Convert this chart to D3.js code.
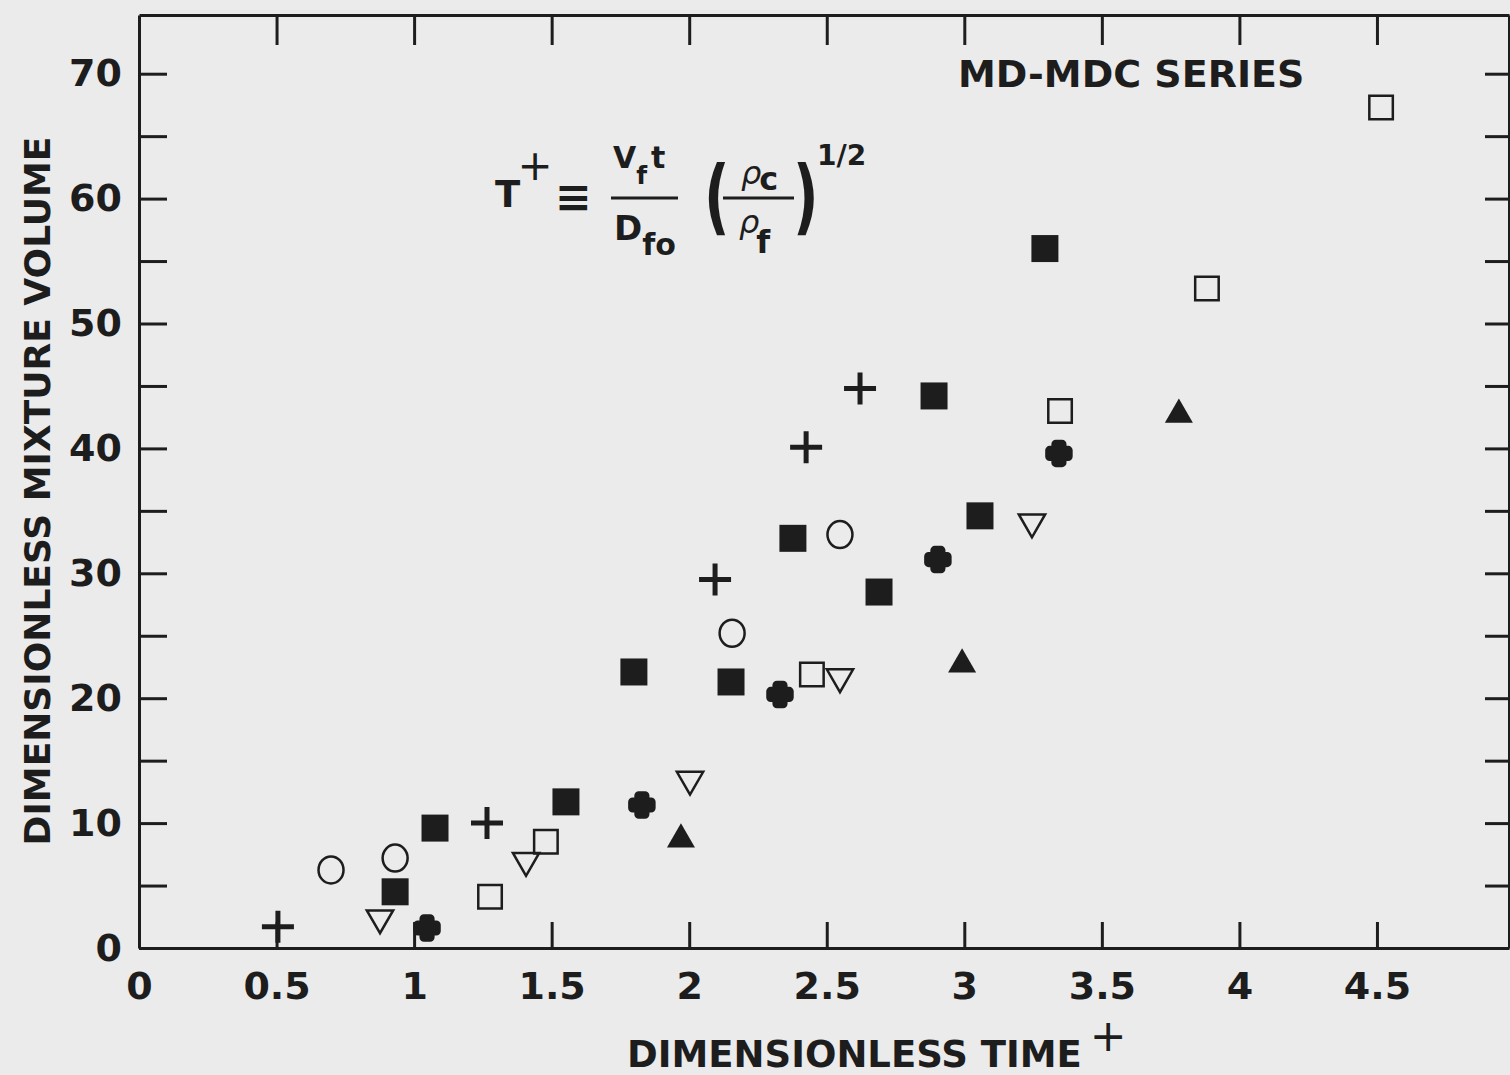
<html>
    <head>
        <script src="https://d3js.org/d3.v7.min.js"></script>
        <title>MD-MDC Series</title>
        <style>
            body { margin: 0; background: #ebebeb; }
            text { font-family: "DejaVu Sans", sans-serif; font-weight: bold; fill: #1d1d1d; }
        </style>
    </head>
    <body>
        <div class="viz"></div>
        <script type="text/javascript">
            // tick values
            var xTicks = [0, 0.5, 1, 1.5, 2, 2.5, 3, 3.5, 4, 4.5];
            var yTicks = [0, 5, 10, 15, 20, 25, 30, 35, 40, 45, 50, 55, 60, 65, 70];

            // one pair of arrays per marker type (dimensionless time, dimensionless mixture volume)
            var plusT = [0.505, 1.265, 2.094, 2.425, 2.621];
            var plusV = [1.7, 10.0, 29.5, 40.1, 44.8];

            var circleT = [0.698, 0.931, 2.156, 2.548];
            var circleV = [6.25, 7.2, 25.2, 33.1];

            var fSquareT = [0.931, 1.076, 1.552, 1.799, 2.152, 2.377, 2.690, 2.890, 3.057, 3.293];
            var fSquareV = [4.5, 9.6, 11.7, 22.1, 21.3, 32.8, 28.5, 44.2, 34.6, 56.0];

            var oSquareT = [1.276, 1.479, 2.446, 3.348, 3.882, 4.515];
            var oSquareV = [4.1, 8.5, 21.9, 43.0, 52.8, 67.3];

            var blobT = [1.047, 1.828, 2.330, 2.904, 3.344];
            var blobV = [1.6, 11.45, 20.3, 31.1, 39.6];

            var dTriT = [0.876, 1.407, 2.003, 2.548, 3.246];
            var dTriV = [2.4, 7.0, 13.5, 21.7, 34.1];

            var fTriT = [1.970, 2.992, 3.780];
            var fTriV = [8.7, 22.7, 42.7];

            var vizWidth = 1510;
            var vizHeight = 1075;
            var ink = "#1d1d1d";

            var xScale = d3.scaleLinear()
                    .domain([0, 4.98])
                    .range([139, 1509]);

            var yScale = d3.scaleLinear()
                    .domain([0, 74.7])
                    .range([948, 15]);

            var svg = d3.select("div")
                        .append("svg")
                        .attr("width", vizWidth)
                        .attr("height", vizHeight);

            svg.append("rect").attr("width", vizWidth).attr("height", vizHeight).attr("fill", "#ebebeb");

            function styleAxis(g) {
                g.selectAll("path, line").attr("stroke", ink).attr("stroke-width", 3);
                g.selectAll("text")
                    .attr("fill", ink)
                    .style("font-family", "'DejaVu Sans', sans-serif")
                    .style("font-weight", "bold")
                    .style("font-size", "38px");
            }

            // bottom axis, ticks pointing up
            svg.append("g")
                .attr("transform", "translate(0," + yScale(0) + ")")
                .call(d3.axisBottom(xScale).tickValues(xTicks).tickSizeInner(-26).tickSizeOuter(0)
                        .tickPadding(24).tickFormat(function(d){ return d; }))
                .call(styleAxis);

            // left axis
            svg.append("g")
                .attr("transform", "translate(" + xScale(0) + ",0)")
                .call(d3.axisLeft(yScale).tickValues(yTicks).tickSizeInner(-28).tickSizeOuter(0)
                        .tickPadding(17).tickFormat(function(d){ return d % 10 === 0 ? d : ""; }))
                .call(styleAxis);

            // top frame
            svg.append("g")
                .attr("transform", "translate(0," + yScale.range()[1] + ")")
                .call(d3.axisTop(xScale).tickValues(xTicks.slice(1)).tickSizeInner(-30).tickSizeOuter(0).tickFormat(""))
                .call(styleAxis);

            // right frame
            svg.append("g")
                .attr("transform", "translate(" + xScale.range()[1] + ",0)")
                .call(d3.axisRight(yScale).tickValues(yTicks.slice(1)).tickSizeInner(-24).tickSizeOuter(0).tickFormat(""))
                .call(styleAxis);

            function pairs(t, v) {
                return t.map(function(d, i){ return [d, v[i]]; });
            }
            function place(d) {
                return "translate(" + xScale(d[0]) + "," + yScale(d[1]) + ")";
            }

            var marks = svg.append("g");

            // plus
            marks.selectAll(".plus")
                .data(pairs(plusT, plusV))
                .enter().append("path")
                .attr("transform", place)
                .attr("d", "M-16,0H16M0,-16V16")
                .attr("stroke", ink).attr("stroke-width", 5).attr("fill", "none");

            // open circle
            marks.selectAll(".circ")
                .data(pairs(circleT, circleV))
                .enter().append("ellipse")
                .attr("cx", function(d){ return xScale(d[0]); })
                .attr("cy", function(d){ return yScale(d[1]); })
                .attr("rx", 12.5).attr("ry", 13.5)
                .attr("fill", "none").attr("stroke", ink).attr("stroke-width", 2.5);

            // filled square
            marks.selectAll(".fsq")
                .data(pairs(fSquareT, fSquareV))
                .enter().append("path")
                .attr("transform", place)
                .attr("d", d3.symbol(d3.symbolSquare, 27 * 27))
                .attr("fill", ink);

            // open square
            marks.selectAll(".osq")
                .data(pairs(oSquareT, oSquareV))
                .enter().append("path")
                .attr("transform", place)
                .attr("d", d3.symbol(d3.symbolSquare, 23.5 * 23.5))
                .attr("fill", "none").attr("stroke", ink).attr("stroke-width", 2.5);

            // filled blob (rounded cross)
            marks.selectAll(".blob")
                .data(pairs(blobT, blobV))
                .enter().append("path")
                .attr("transform", place)
                .attr("d", d3.symbol(d3.symbolCross, 190))
                .attr("fill", ink).attr("stroke", ink).attr("stroke-width", 9).attr("stroke-linejoin", "round");

            // open down triangle
            marks.selectAll(".dtri")
                .data(pairs(dTriT, dTriV))
                .enter().append("path")
                .attr("transform", function(d){ return place(d) + " rotate(180)"; })
                .attr("d", d3.symbol(d3.symbolTriangle, 300))
                .attr("fill", "none").attr("stroke", ink).attr("stroke-width", 2.5);

            // filled triangle
            marks.selectAll(".ftri")
                .data(pairs(fTriT, fTriV))
                .enter().append("path")
                .attr("transform", place)
                .attr("d", d3.symbol(d3.symbolTriangle, 340))
                .attr("fill", ink);

            // axis titles
            svg.append("text")
                .attr("transform", "translate(50,491) rotate(-90)")
                .attr("text-anchor", "middle")
                .style("font-size", "36px")
                .text("DIMENSIONLESS MIXTURE VOLUME");

            var xt = svg.append("text")
                .attr("x", 627).attr("y", 1067)
                .style("font-size", "37px");
            xt.append("tspan").text("DIMENSIONLESS TIME");
            xt.append("tspan").attr("dx", 8).attr("dy", -16).style("font-size", "44px").style("font-weight", "normal").text("+");

            svg.append("text")
                .attr("x", 958).attr("y", 87)
                .style("font-size", "38px")
                .text("MD-MDC SERIES");

            // formula  T+ = Vf t / Dfo (rho_c / rho_f)^1/2
            var f = svg.append("g");
            f.append("text").attr("x", 495).attr("y", 207).style("font-size", "37px").text("T");
            f.append("text").attr("x", 535).attr("y", 180).attr("text-anchor", "middle")
                .style("font-size", "42px").style("font-weight", "normal").text("+");
            f.append("text").attr("x", 555).attr("y", 212).style("font-size", "44px").text("≡");

            var num = f.append("text").attr("x", 613).attr("y", 168).style("font-size", "30px");
            num.append("tspan").text("V");
            num.append("tspan").attr("dy", 16).style("font-size", "25px").text("f");
            num.append("tspan").attr("dx", 4).attr("dy", -16).text("t");
            f.append("line").attr("x1", 611).attr("x2", 678).attr("y1", 198).attr("y2", 198)
                .attr("stroke", ink).attr("stroke-width", 3);
            var den = f.append("text").attr("x", 614).attr("y", 240).style("font-size", "34px");
            den.append("tspan").text("D");
            den.append("tspan").attr("dy", 15).style("font-size", "30px").text("fo");

            f.append("text").attr("transform", "translate(704,224) scale(1,1.45)").style("font-size", "56px").text("(");
            var rc = f.append("text").attr("x", 741).attr("y", 184).style("font-size", "32px");
            rc.append("tspan").style("font-style", "italic").style("font-weight", "normal").text("ρ");
            rc.append("tspan").attr("dx", -2).attr("dy", 6).text("c");
            f.append("line").attr("x1", 723).attr("x2", 794).attr("y1", 198).attr("y2", 198)
                .attr("stroke", ink).attr("stroke-width", 3);
            var rf = f.append("text").attr("x", 739).attr("y", 233).style("font-size", "32px");
            rf.append("tspan").style("font-style", "italic").style("font-weight", "normal").text("ρ");
            rf.append("tspan").attr("dx", -3).attr("dy", 20).text("f");
            f.append("text").attr("transform", "translate(793,224) scale(1,1.45)").style("font-size", "56px").text(")");
            f.append("text").attr("x", 817).attr("y", 165).style("font-size", "28px").text("1/2");
        </script>
    </body>
</html>
